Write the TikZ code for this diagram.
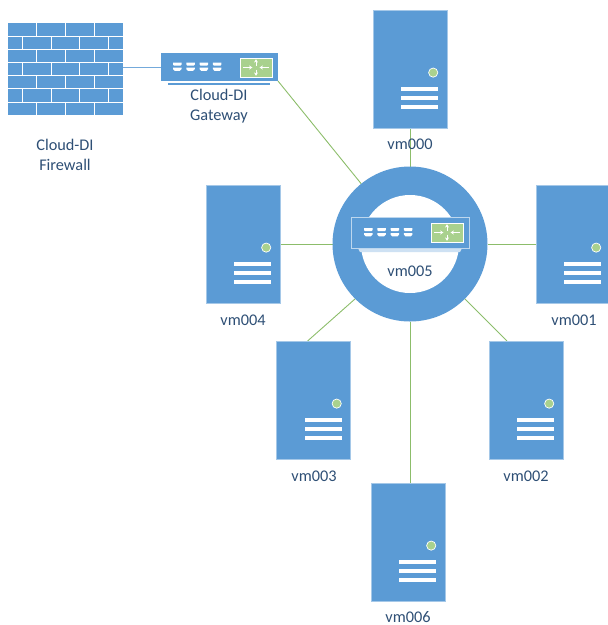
\documentclass[tikz,border=0pt]{standalone}
\usepackage{fontspec}
\setmainfont{Carlito}
\usetikzlibrary{calc,backgrounds,arrows.meta}
\definecolor{blu}{HTML}{5B9BD5}
\definecolor{lnk}{HTML}{8CBD6A}
\definecolor{grn}{HTML}{A9D18E}
\definecolor{txt}{HTML}{2E4F75}
\tikzset{
  x=1pt,y=-1pt,
  link/.style={draw=lnk,line width=0.9pt},
  wire/.style={draw=blu!85!white,line width=0.9pt},
  serverbox/.style={fill=blu,draw=blu!55!white,line width=0.5pt,inner sep=0,outer sep=0,minimum width=74pt,minimum height=118pt},
  routerbox/.style={fill=blu,inner sep=0,outer sep=0},
  lbl/.style={text=txt,font=\fontsize{16.3}{20}\selectfont,align=center,inner sep=0},
  ringnode/.style={circle,fill=blu,inner sep=0,outer sep=0,minimum size=155pt},
  holenode/.style={circle,fill=white,inner sep=0,outer sep=0,minimum size=98pt},
  arr/.style={white,line width=0.7pt},
  tip/.style={-{Stealth[length=3.4pt,width=4pt]}},
  brick/.style={white,line width=0.7pt},
}
% server: name, cx, cy
\newcommand{\srv}[3]{%
  \node[serverbox] (#1) at (#2,#3) {};
  \fill[grn,draw=white,line width=0.7pt] (#2+23.2,#3+3.6) circle[radius=4.6];
  \foreach \yy in {20,29,38}{\fill[white] (#2-9,#3+\yy-1.7) rectangle (#2+28,#3+\yy+1.7);}
}
\newcommand{\ports}[2]{%
  \foreach \k in {0,1,2,3}{
    \fill[white] ({#1+13.3*\k},#2) -- ({#1+8.5+13.3*\k},#2) -- ({#1+8.5+13.3*\k},{#2+2}) -- ({#1+7.5+13.3*\k},{#2+3.2}) -- ({#1+1+13.3*\k},{#2+3.2}) -- ({#1+13.3*\k},{#2+2}) -- cycle;
    \fill[white] ({#1+13.3*\k},{#2+5.2}) -- ({#1+8.5+13.3*\k},{#2+5.2}) -- ({#1+8.5+13.3*\k},{#2+6.6}) -- ({#1+6.8+13.3*\k},{#2+8.4}) -- ({#1+1.7+13.3*\k},{#2+8.4}) -- ({#1+13.3*\k},{#2+6.6}) -- cycle;
  }}
\newcommand{\greenbox}[5]{% x,y,w,h,border
  \fill[grn,draw=#5,line width=0.7pt] (#1,#2) rectangle ({#1+#3},{#2+#4});
  \begin{scope}[shift={({#1+#3/2},{#2+#4/2})}]
    \draw[arr,tip] (-13,0) -- (-3.5,0);
    \draw[arr,tip] (13,0) -- (3.5,0);
    \draw[arr,tip] (0,-2) -- (0,-8.3);
    \draw[arr,tip] (0,2) -- (0,8.3);
  \end{scope}}
\begin{document}
\begin{tikzpicture}
\useasboundingbox (0,0) rectangle (608,625);
\begin{scope}
\clip (0,0) rectangle (608,625);
% firewall
\node[routerbox,minimum width=115pt,minimum height=92pt] (fw) at (65.5,69) {};
\foreach \r in {1,...,6}{\draw[brick] (8,{23+\r*92/7}) -- (123,{23+\r*92/7});}
\foreach \r in {0,2,4,6}{\foreach \c in {1,2,3}{\draw[brick] ({8+\c*28.75},{23+\r*92/7}) -- ({8+\c*28.75},{23+(\r+1)*92/7});}}
\foreach \r in {1,3,5}{\foreach \c in {0,1,2,3}{\draw[brick] ({22.3+\c*28.75},{23+\r*92/7}) -- ({22.3+\c*28.75},{23+(\r+1)*92/7});}}
% gateway
\node[routerbox,minimum width=117pt,minimum height=28pt] (gw) at (219.5,67) {};
\fill[blu] (168,83) rectangle (270,85);
\ports{173}{62.5}
\greenbox{240}{58}{32}{19}{white}
% ring
\node[ringnode] (ring) at (410,244) {};
\node[holenode] (hole) at (410,244) {};
\fill[white!70!blu] (358,248) -- (462,248) -- (460,252) -- (360,252) -- cycle;
\draw[fill=blu,draw=white!60!blu,line width=0.8pt] (351,217) rectangle (469,248);
\node[routerbox,minimum width=116pt,minimum height=29pt] (sw) at (410,232.5) {};
\ports{364}{228}
\greenbox{431}{223}{32}{19}{white}
% servers
\srv{vm000}{410}{69}
\srv{vm001}{573}{244}
\srv{vm002}{526}{400}
\srv{vm003}{313.5}{400}
\srv{vm004}{243}{244}
\srv{vm006}{408}{542}
% connectors
\begin{scope}[on background layer]
\draw[wire] (fw.east |- gw.west) -- (gw.west);
\draw[link] (gw.south east) -- (ring.129);
\draw[link] (vm000.south) -- (ring.north);
\draw[link] (vm001.west) -- (ring.east);
\draw[link] (ring.315) -- ($(vm002.north west)!0.243!(vm002.north east)$);
\draw[link] (ring.225) -- ($(vm003.north west)!0.42!(vm003.north east)$);
\draw[link] (vm004.east) -- (ring.west);
\draw[link] (ring.south) -- (ring.south |- vm006.north);
\end{scope}
% labels
\node[lbl] (t0) at (410,144) {vm000};
\node[lbl] (t1) at (574,320) {vm001};
\node[lbl] (t2) at (526,476) {vm002};
\node[lbl] (t3) at (314,476) {vm003};
\node[lbl] (t4) at (243,320) {vm004};
\node[lbl] (t5) at (410,271) {vm005};
\node[lbl] (t6) at (408,617) {vm006};
\node[lbl] (tg) at (219,106) {Cloud-DI\\Gateway};
\node[lbl] (tf) at (65,155) {Cloud-DI\\Firewall};
\end{scope}
\end{tikzpicture}
\end{document}
